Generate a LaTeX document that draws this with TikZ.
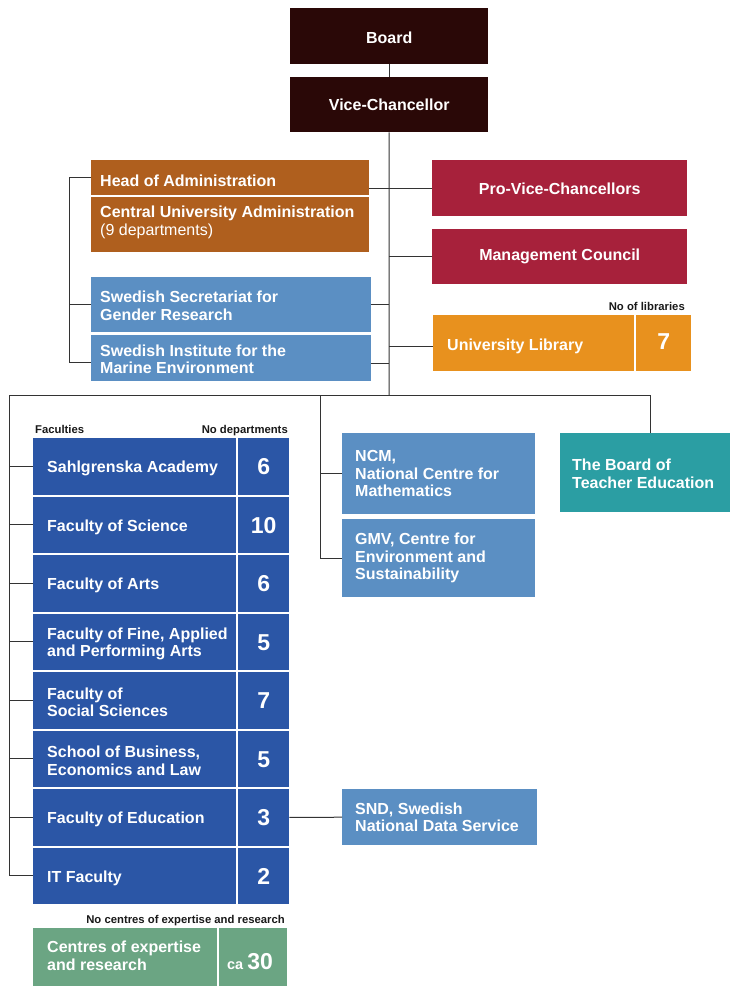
\documentclass[tikz,border=0pt]{standalone}
\usepackage{fontspec}
\setmainfont{Liberation Sans}
\usetikzlibrary{calc}
\definecolor{cBoard}{HTML}{2A0807}
\definecolor{cAdm}{HTML}{AF5F1E}
\definecolor{cPvc}{HTML}{A7213B}
\definecolor{cLb}{HTML}{5B8FC3}
\definecolor{cLib}{HTML}{E8911E}
\definecolor{cFac}{HTML}{2B56A6}
\definecolor{cTeal}{HTML}{2B9EA3}
\definecolor{cGreen}{HTML}{6BA583}
\definecolor{cLine}{HTML}{333333}
\begin{document}
\begin{tikzpicture}[x=1pt,y=-1pt,
  box/.style={rectangle, draw=none, inner sep=0pt, anchor=north west},
  txt/.style={inner sep=0pt, anchor=west, align=left, text=white, font=\bfseries\fontsize{16}{17.5}\selectfont},
  ctxt/.style={inner sep=0pt, anchor=center, align=center, text=white, font=\bfseries\fontsize{16}{17.5}\selectfont},
  num/.style={inner sep=0pt, anchor=center, text=white, font=\bfseries\fontsize{23}{23}\selectfont},
  small/.style={inner sep=0pt, text=black!90, font=\bfseries\fontsize{11.3}{13}\selectfont},
  conn/.style={draw=cLine, line width=1pt},
]
\useasboundingbox (0,0) rectangle (730,986);

% top
\node[box, fill=cBoard, minimum width=198, minimum height=56] (board) at (290,8) {};
\node[ctxt] (boardt) at ($(board.center)+(0,2)$) {Board};
\node[box, fill=cBoard, minimum width=198, minimum height=55] (vc) at (290,77) {};
\node[ctxt] (vct) at (vc.center) {Vice-Chancellor};

% administration
\node[box, fill=cAdm, minimum width=278, minimum height=35] (hoa) at (91,160) {};
\node[txt] (hoat) at ($(hoa.west)+(9,3)$) {Head of Administration};
\node[box, fill=cAdm, minimum width=278, minimum height=55] (cua) at (91,197) {};
\node[txt, anchor=north west] (cuat) at (100,206) {Central University Administration\\\mdseries(9 departments)};

\node[box, fill=cLb, minimum width=280, minimum height=55] (gender) at (91,277) {};
\node[txt] (gendert) at ($(gender.west)+(9,1)$) {Swedish Secretariat for\\Gender Research};
\node[box, fill=cLb, minimum width=280, minimum height=46] (marine) at (91,335) {};
\node[txt] (marinet) at ($(marine.west)+(9,1)$) {Swedish Institute for the\\Marine Environment};

% right column
\node[box, fill=cPvc, minimum width=255, minimum height=56] (pvc) at (432,160) {};
\node[ctxt] (pvct) at ($(pvc.center)+(0,1)$) {Pro-Vice-Chancellors};
\node[box, fill=cPvc, minimum width=255, minimum height=55] (mc) at (432,229) {};
\node[ctxt] (mct) at ($(mc.center)+(0,0)$) {Management Council};

\node[small, anchor=base east] (libl) at (685,310.5) {No of libraries};
\node[box, fill=cLib, minimum width=201, minimum height=56] (lib) at (433,315) {};
\node[txt] (libt) at ($(lib.west)+(14,3)$) {University Library};
\node[box, fill=cLib, minimum width=55, minimum height=56] (libn) at (636,315) {};
\node[num] (libnt) at ($(libn.center)+(0,-2)$) {7};

% middle
\node[box, fill=cLb, minimum width=193, minimum height=81] (ncm) at (342,433) {};
\node[txt] (ncmt) at ($(ncm.west)+(13,0)$) {NCM,\\National Centre for\\Mathematics};
\node[box, fill=cLb, minimum width=193, minimum height=78] (gmv) at (342,519) {};
\node[txt] (gmvt) at ($(gmv.west)+(13,0)$) {GMV, Centre for\\Environment and\\Sustainability};
\node[box, fill=cTeal, minimum width=180, minimum height=79] (teach) at (560,433) {};
\node[txt] (teacht) at ($(teach.west)+(12,1)$) {The Board of\\Teacher Education};

\node[box, fill=cLb, minimum width=195, minimum height=56] (snd) at (342,789) {};
\node[txt] (sndt) at ($(snd.west)+(13,0)$) {SND, Swedish\\National Data Service};

% faculties
\node[small, anchor=base west] (facl) at (35,433) {Faculties};
\node[small, anchor=base east] (depl) at (288,433) {No departments};
\foreach \i/\fname/\nn in {0/{Sahlgrenska Academy}/6, 1/{Faculty of Science}/10, 2/{Faculty of Arts}/6, 3/{Faculty of Fine, Applied\\and Performing Arts}/5, 4/{Faculty of\\Social Sciences}/7, 5/{School of Business,\\Economics and Law}/5, 6/{Faculty of Education}/3, 7/{IT Faculty}/2}{
  \pgfmathsetmacro\yy{438+\i*58.5}
  \node[box, fill=cFac, minimum width=203, minimum height=56.5] (f\i) at (33,\yy) {};
  \node[box, fill=cFac, minimum width=51, minimum height=56.5] (n\i) at (238,\yy) {};
  \node[txt] (ft\i) at ($(f\i.west)+(14,2)$) {\fname};
  \node[num] (nt\i) at ($(n\i.center)+(0,0.5)$) {\nn};
}

% centres
\node[small, anchor=base east] (cenl) at (285,923) {No centres of expertise and research};
\node[box, fill=cGreen, minimum width=184, minimum height=62] (cen) at (33,928) {};
\node[txt] (cent) at (47,956) {Centres of expertise\\and research};
\node[box, fill=cGreen, minimum width=68, minimum height=62] (cenn) at (219,928) {};
\node[num, anchor=base] (cennt) at (250,969) {\fontsize{14.5}{14.5}\selectfont ca \fontsize{23}{23}\selectfont 30};

% connectors
\coordinate (bus) at (389,395);
\coordinate (busL) at (9,395);
\coordinate (busM) at (320,395);
\coordinate (brk) at (69,0);
\draw[conn] (board.south) -- (vc.north);
\draw[conn] (vc.south) -- (bus);
\draw[conn] (hoa.east |- pvc.west) -- (pvc.west);
\draw[conn] (mc.west) -- (mc.west -| bus);
\draw[conn] (gender.east) -- (gender.east -| bus);
\draw[conn] ($(marine.east)+(0,5)$) -- ($(marine.east -| bus)+(0,5)$);
\draw[conn] ($(lib.west)+(0,3)$) -- ($(lib.west -| bus)+(0,3)$);
\draw[conn] (hoa.west) -- (hoa.west -| brk) -- ($(marine.west -| brk)+(0,4)$) -- ($(marine.west)+(0,4)$);
\draw[conn] (gender.west) -- (gender.west -| brk);
\draw[conn] (teach.north) |- (busL) -- (busL |- f7.west) -- (f7.west);
\draw[conn] (busM) |- (gmv.west);
\draw[conn] (ncm.west) -- (ncm.west -| busM);
\foreach \i in {0,...,6}{\draw[conn] (f\i.west) -- (f\i.west -| busL);}
\draw[conn] (n6.east) -- (snd.west);
\end{tikzpicture}
\end{document}
